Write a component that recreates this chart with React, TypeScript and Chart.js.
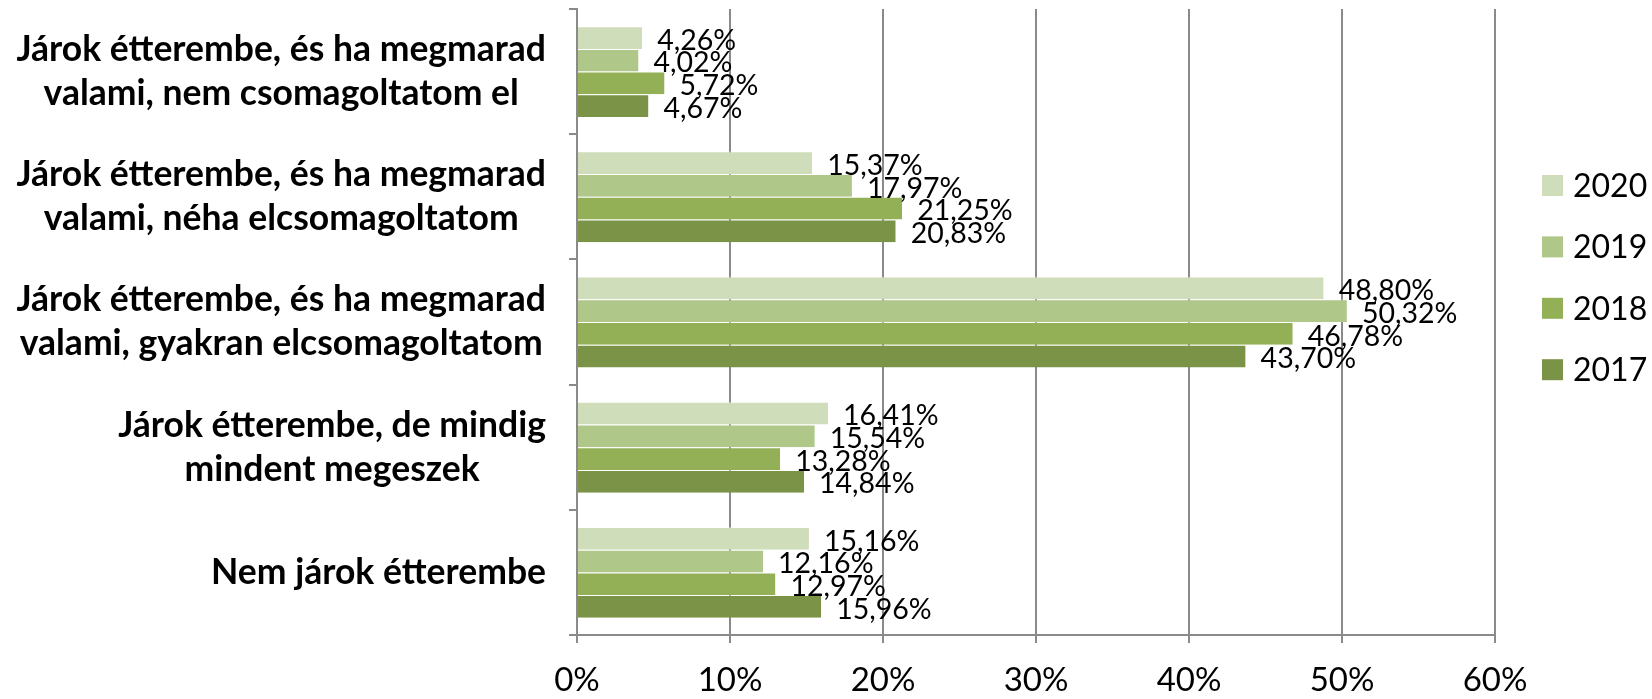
import React, { useEffect, useRef } from 'react';
import { Chart, registerables } from 'chart.js';

Chart.register(...registerables);

// ---- data ----
const categoryLines: string[][] = [
  ['Járok étterembe, és ha megmarad', 'valami, nem csomagoltatom el'],
  ['Járok étterembe, és ha megmarad', 'valami, néha elcsomagoltatom'],
  ['Járok étterembe, és ha megmarad', 'valami, gyakran elcsomagoltatom'],
  ['Járok étterembe, de mindig', 'mindent megeszek'],
  ['Nem járok étterembe'],
];
const seriesNames = ['2020', '2019', '2018', '2017'];
const values2020 = [4.26, 15.37, 48.8, 16.41, 15.16];
const values2019 = [4.02, 17.97, 50.32, 15.54, 12.16];
const values2018 = [5.72, 21.25, 46.78, 13.28, 12.97];
const values2017 = [4.67, 20.83, 43.7, 14.84, 15.96];
const seriesColors = ['#D0DDBA', '#AFC788', '#93B056', '#7A9346'];
const xMin = 0;
const xMax = 60;
const xStep = 10;

const FONT = 'Lato, "Open Sans", sans-serif';
const GRID = '#8A8A8A';

const categoryLabelPlugin = {
  id: 'categoryLabels',
  afterDraw(chart: any) {
    const ctx = chart.ctx;
    const yScale = chart.scales.y;
    ctx.save();
    ctx.font = `bold 35.5px ${FONT}`;
    ctx.fillStyle = '#000';
    ctx.textAlign = 'center';
    ctx.textBaseline = 'middle';
    const lineH = 44;
    const right = yScale.right - 31;
    categoryLines.forEach((lines, i) => {
      const y = yScale.getPixelForValue(i);
      const maxW = Math.max(...lines.map((l) => ctx.measureText(l).width));
      const cx = right - maxW / 2;
      lines.forEach((l, j) => {
        ctx.fillText(l, cx, y + (j - (lines.length - 1) / 2) * lineH);
      });
    });
    ctx.restore();
  },
};

const valueLabelPlugin = {
  id: 'valueLabels',
  afterDatasetsDraw(chart: any) {
    const ctx = chart.ctx;
    ctx.save();
    ctx.font = `28.5px ${FONT}`;
    ctx.fillStyle = '#000';
    ctx.textAlign = 'left';
    ctx.textBaseline = 'middle';
    chart.data.datasets.forEach((ds: any, di: number) => {
      const meta = chart.getDatasetMeta(di);
      meta.data.forEach((el: any, i: number) => {
        const v = ds.data[i] as number;
        const txt = v.toFixed(2).replace('.', ',') + '%';
        ctx.fillText(txt, el.x + 15, el.y + 3);
      });
    });
    ctx.restore();
  },
};

const legendPlugin = {
  id: 'customLegend',
  afterDraw(chart: any) {
    const ctx = chart.ctx;
    ctx.save();
    ctx.font = `32px ${FONT}`;
    ctx.textAlign = 'left';
    ctx.textBaseline = 'middle';
    const boxX = 1542;
    const box = 21;
    const y0 = 185.5;
    const gap = 61.4;
    chart.data.datasets.forEach((ds: any, i: number) => {
      const cy = y0 + i * gap;
      ctx.fillStyle = ds.backgroundColor;
      ctx.fillRect(boxX, cy - box / 2, box, box);
      ctx.fillStyle = '#000';
      ctx.fillText(ds.label, boxX + 31, cy + 1);
    });
    ctx.restore();
  },
};

export default function App() {
  const canvasRef = useRef<HTMLCanvasElement | null>(null);

  useEffect(() => {
    document.body.style.margin = '0';
    const canvas = canvasRef.current;
    if (!canvas) return;
    const seriesValues = [values2020, values2019, values2018, values2017];
    const chart = new Chart(canvas, {
      type: 'bar',
      data: {
        labels: categoryLines.map((l) => l.join(' ')),
        datasets: seriesNames.map((name, i) => ({
          label: name,
          data: seriesValues[i],
          backgroundColor: seriesColors[i],
          borderColor: 'rgba(255,255,255,0.35)',
          borderWidth: { top: 1, bottom: 0, left: 0, right: 0 },
          borderSkipped: false,
          categoryPercentage: 0.726,
          barPercentage: 1,
        })),
      },
      options: {
        indexAxis: 'y',
        responsive: false,
        animation: false,
        layout: { padding: { top: 9, right: 157, left: 0, bottom: 0 } },
        plugins: {
          legend: { display: false },
          tooltip: { enabled: false },
          title: { display: false },
        },
        scales: {
          x: {
            type: 'linear',
            min: xMin,
            max: xMax,
            ticks: {
              stepSize: xStep,
              callback: (v: any) => `${v}%`,
              font: { family: FONT, size: 33 },
              color: '#000',
              padding: 18,
            },
            grid: {
              color: GRID,
              lineWidth: 2,
              tickLength: 8,
              drawOnChartArea: true,
              drawTicks: true,
            },
            border: { color: GRID, width: 2 },
            afterFit: (scale: any) => {
              scale.height = 64;
            },
          },
          y: {
            type: 'category',
            ticks: { display: false },
            grid: {
              color: GRID,
              lineWidth: 2,
              tickLength: 8,
              drawOnChartArea: false,
              drawTicks: true,
            },
            border: { color: GRID, width: 2 },
            afterFit: (scale: any) => {
              scale.width = 577;
            },
          },
        },
      } as any,
      plugins: [categoryLabelPlugin, valueLabelPlugin, legendPlugin],
    });
    return () => chart.destroy();
  }, []);

  return (
    <div style={{ width: 1652, height: 699, background: '#fff' }}>
      <canvas ref={canvasRef} width={1652} height={699} />
    </div>
  );
}
